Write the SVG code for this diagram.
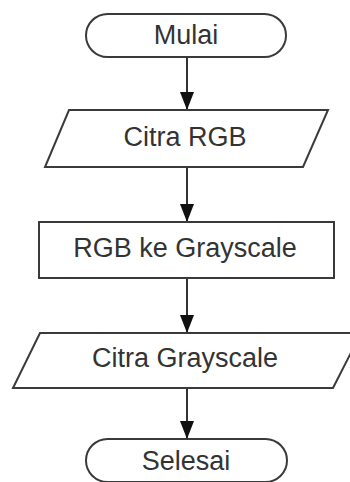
<svg xmlns="http://www.w3.org/2000/svg" width="350" height="482" viewBox="0 0 350 482">
<defs>
<style>
.s{fill:#fff;stroke:#3a3a3a;stroke-width:2}
.t{font-family:"Liberation Sans",Arial,sans-serif;font-size:27px;fill:#333;text-anchor:middle}
.c{stroke:#333;stroke-width:2;fill:none;marker-end:url(#ah)}
</style>
<marker id="ah" markerUnits="userSpaceOnUse" markerWidth="18" markerHeight="14" viewBox="0 0 18 14" refX="18" refY="7" orient="auto">
<path d="M0,0 L18,7 L0,14 Z" fill="#111"/>
</marker>
</defs>
<rect width="350" height="482" fill="#fff"/>
<g id="connectors">
<line class="c" x1="187" y1="57" x2="187" y2="110"/>
<line class="c" x1="187" y1="167" x2="187" y2="222"/>
<line class="c" x1="187" y1="278" x2="187" y2="333"/>
<line class="c" x1="187" y1="388" x2="187" y2="439"/>
</g>
<g id="mulai">
<rect class="s" x="86" y="14" width="200" height="43" rx="21.5"/>
<text class="t" x="186" y="44">Mulai</text>
</g>
<g id="citra-rgb">
<polygon class="s" points="69,110 328,110 303,167 45,167"/>
<text class="t" x="185" y="146">Citra RGB</text>
</g>
<g id="rgb-ke-grayscale">
<rect class="s" x="39" y="222" width="295" height="56"/>
<text class="t" x="185" y="257">RGB ke Grayscale</text>
</g>
<g id="citra-grayscale">
<polygon class="s" points="40,333 361,333 333,388 13,388"/>
<text class="t" x="185" y="367">Citra Grayscale</text>
</g>
<g id="selesai">
<rect class="s" x="86" y="439" width="201" height="43" rx="21.5"/>
<text class="t" x="186" y="470">Selesai</text>
</g>
</svg>
